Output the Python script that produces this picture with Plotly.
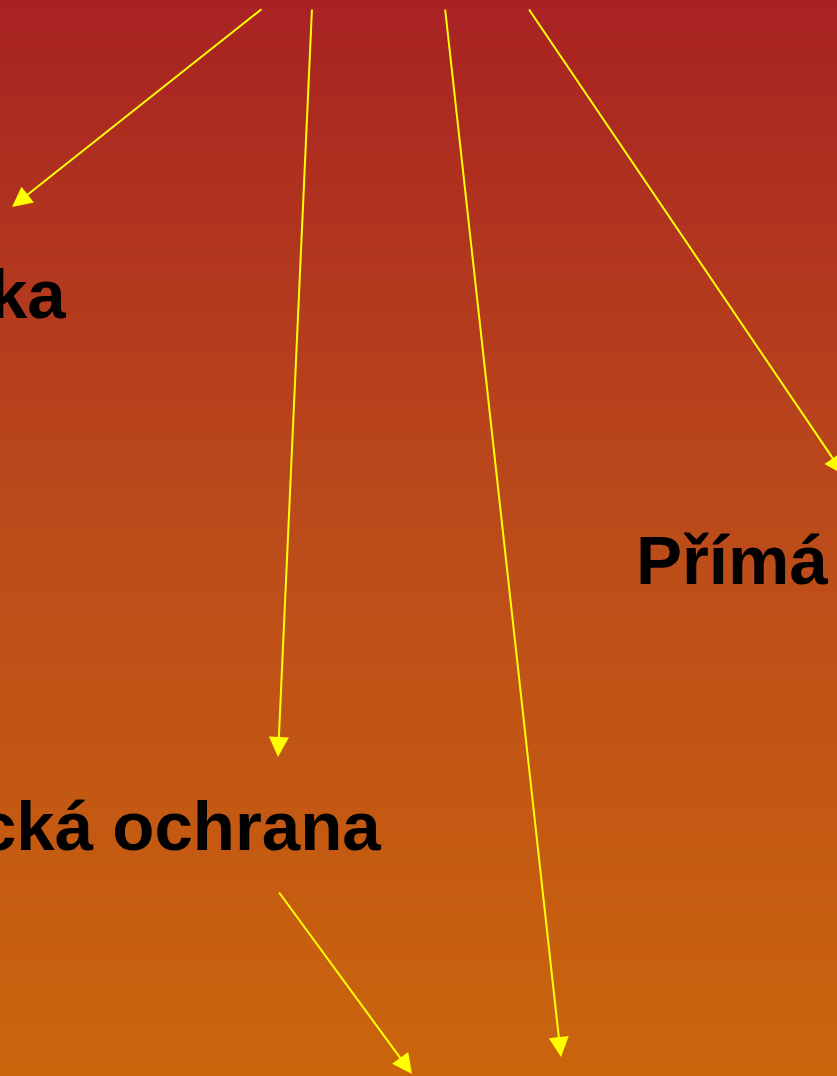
import plotly.graph_objects as go

W, H = 837, 1076

# Arrows: tail (start) and head (tip) positions in pixel space
arrow_tail_x = [263, 312, 445, 528, 278]
arrow_tail_y = [8, 8, 8, 8, 891]
arrow_head_x = [12, 278, 561, 844, 412]
arrow_head_y = [207, 757, 1057, 475, 1074]

# Text labels
label_text = ["ka", "Přímá", "cká ochrana"]
label_x = [68, 634, 383]
label_y = [294, 560, 826]
label_anchor = ["right", "left", "right"]

# Background gradient stops (top -> bottom)
grad_pos = [0, 540, 1076]
grad_colors = ["rgb(168,34,34)", "rgb(188,76,26)", "rgb(202,101,12)"]

fig = go.Figure()

fig.add_trace(go.Heatmap(
    x=[-1, W + 1],
    y=grad_pos,
    z=[[0, 0], [0.5, 0.5], [1, 1]],
    colorscale=[[0, grad_colors[0]], [0.5, grad_colors[1]], [1, grad_colors[2]]],
    zsmooth="best",
    showscale=False,
    hoverinfo="skip",
))

annotations = []
for tx, ty, hx, hy in zip(arrow_tail_x, arrow_tail_y, arrow_head_x, arrow_head_y):
    annotations.append(dict(
        x=hx, y=hy, ax=tx, ay=ty,
        xref="x", yref="y", axref="x", ayref="y",
        text="", showarrow=True,
        arrowhead=2, arrowsize=2.0, arrowwidth=2,
        arrowcolor="#FFFF00", standoff=0, startstandoff=0,
    ))

for t, x, y, a in zip(label_text, label_x, label_y, label_anchor):
    annotations.append(dict(
        x=x, y=y, xref="x", yref="y",
        text="<b>" + t + "</b>", showarrow=False,
        xanchor=a, yanchor="middle",
        font=dict(family="Liberation Sans, Arial, sans-serif", size=69, color="#000000"),
    ))

fig.update_layout(
    width=W, height=H,
    margin=dict(l=0, r=0, t=0, b=0),
    paper_bgcolor=grad_colors[1],
    plot_bgcolor=grad_colors[1],
    xaxis=dict(range=[0, W], visible=False, fixedrange=True),
    yaxis=dict(range=[H, 0], visible=False, fixedrange=True),
    annotations=annotations,
    showlegend=False,
)

fig.write_html(
    "out.html",
    config={"displayModeBar": False},
    post_script="document.body.style.margin='0';document.body.style.overflow='hidden';",
)
